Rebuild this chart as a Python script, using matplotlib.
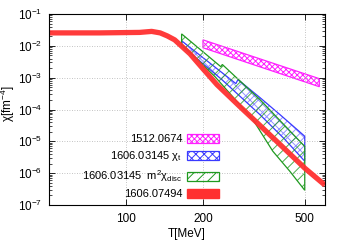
import matplotlib
matplotlib.use("Agg")
import matplotlib.pyplot as plt
from matplotlib.patches import Patch
from matplotlib.ticker import FixedLocator, NullLocator, NullFormatter, LogLocator
import numpy as np

plt.rcParams['font.family'] = ['Liberation Sans', 'DejaVu Sans']
plt.rcParams['mathtext.fontset'] = 'custom'
plt.rcParams['mathtext.rm'] = 'Liberation Sans'
plt.rcParams['mathtext.it'] = 'Liberation Sans:italic'
plt.rcParams['mathtext.default'] = 'regular'
plt.rcParams['hatch.linewidth'] = 0.7

# 1606.07494 (thick red curve)
T_red = [50, 79, 113, 126, 136, 145, 155, 178, 200, 227, 279, 334, 411, 500, 600]
chi_red = [2.55e-2, 2.55e-2, 2.64e-2, 2.84e-2, 2.55e-2, 2.05e-2, 1.54e-2, 5.6e-3,
           1.9e-3, 6.0e-4, 1.23e-4, 3.16e-5, 6.5e-6, 1.44e-6, 4.2e-7]

# 1512.0674 band
T_mag = [200, 570]
mag_hi = [1.54e-2, 9.3e-4]
mag_lo = [8.7e-3, 5.2e-4]

# 1606.03145 chi_t band
T_blue_hi = [165, 269, 274, 334, 400, 466, 500]
blue_hi = [1.44e-2, 6.5e-4, 8.7e-4, 2.37e-4, 6.9e-5, 2.37e-5, 1.44e-5]
T_blue_lo = [165, 237, 334, 418, 500]
blue_lo = [1.0e-2, 8.7e-4, 6.9e-5, 1.15e-5, 2.37e-6]

# 1606.03145 m^2 chi_disc band
T_green_hi = [165, 235, 238, 334, 500]
green_hi = [2.37e-2, 2.2e-3, 2.6e-3, 2.05e-4, 6.9e-6]
T_green_lo = [165, 223, 313, 375, 437, 500]
green_lo = [1.15e-2, 1.07e-3, 4.9e-5, 4.9e-6, 1.15e-6, 2.9e-7]

labels = ["1512.0674", r"1606.03145 $\chi_t$",
          r"1606.03145  $m^2\chi_{disc}$", "1606.07494"]
xticks = [100, 200, 500]

red = '#ff3030'
blue = '#3a3aff'
green = '#209a20'
magenta = '#ff20ff'


def band(ax, T_hi, hi, T_lo, lo, color, hatch, hatch_alpha=1.0):
    # polygon: upper edge forward, lower edge back
    xs = list(T_hi) + list(T_lo)[::-1]
    ys = list(hi) + list(lo)[::-1]
    hatch_color = matplotlib.colors.to_rgba(color, hatch_alpha)
    p = ax.fill(xs, ys, facecolor='none', edgecolor=hatch_color, hatch=hatch, lw=0)[0]
    ax.fill(xs, ys, facecolor='none', edgecolor=color, lw=0.9)
    return p


fig = plt.figure(figsize=(3.46, 2.42), dpi=100)
ax = fig.add_axes([49 / 346, 37 / 242, 276 / 346, 191 / 242])
ax.set_xscale('log')
ax.set_yscale('log')
ax.set_xlim(50, 600)
ax.set_ylim(1e-7, 1e-1)

band(ax, T_mag, mag_hi, T_mag, mag_lo, magenta, 'xxxxxx')
band(ax, T_blue_hi, blue_hi, T_blue_lo, blue_lo, blue, 'xxxx', 0.55)
band(ax, T_green_hi, green_hi, T_green_lo, green_lo, green, '///', 0.8)
ax.plot(T_red, chi_red, color=red, lw=3.8, solid_capstyle='butt', alpha=0.95)

ax.xaxis.set_major_locator(FixedLocator(xticks))
ax.xaxis.set_minor_locator(NullLocator())
ax.set_xticklabels([str(t) for t in xticks])
ax.yaxis.set_major_locator(LogLocator(base=10, numticks=10))
ax.yaxis.set_minor_locator(LogLocator(base=10, subs=np.arange(2, 10), numticks=10))
ax.yaxis.set_minor_formatter(NullFormatter())

ax.tick_params(which='both', direction='in', top=True, right=True, labelsize=8.5)
ax.tick_params(which='major', length=4, width=0.6)
ax.tick_params(which='minor', length=2, width=0.5)
ax.tick_params(axis='x', pad=6)
ax.tick_params(axis='y', pad=5)
ax.grid(True, which='major', color='#b0b0b0', ls=(0, (1, 2)), lw=0.6)
for s in ax.spines.values():
    s.set_linewidth(0.8)

ax.set_xlabel('T[MeV]', fontsize=8.5, labelpad=2)
ax.set_ylabel(r'$\chi$[fm$^{-4}$]', fontsize=8.5)
ax.yaxis.set_label_coords(-0.115, 0.53)

blue_handle = Patch(facecolor='none', edgecolor=blue, hatch='xxxx', lw=0.9)
green_handle = Patch(facecolor='none', edgecolor=green, hatch='///', lw=0.9)
mag_handle = Patch(facecolor='none', edgecolor=magenta, hatch='xxxxxx', lw=0.9)
handles = [mag_handle, blue_handle, green_handle, Patch(facecolor=red, edgecolor=red)]
ax.legend(handles, labels, loc='lower right', bbox_to_anchor=(0.616, 0.03),
          frameon=False, fontsize=8, markerfirst=False, handlelength=2.9,
          handleheight=0.8, handletextpad=0.4, labelspacing=0.45,
          borderpad=0, borderaxespad=0)

fig.savefig('out.png', dpi=100)
